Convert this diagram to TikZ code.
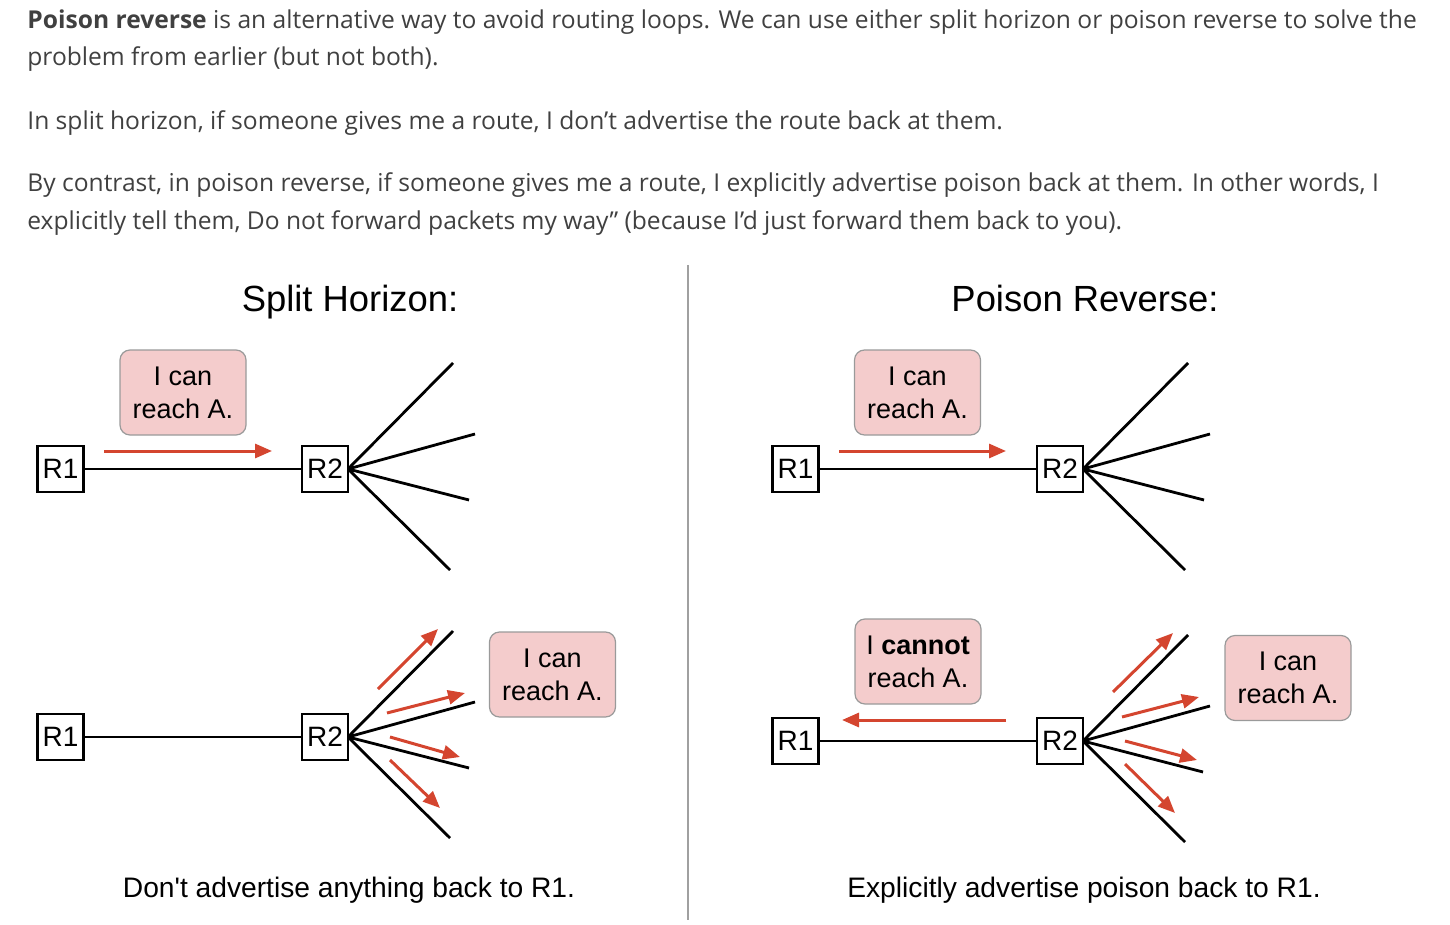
\documentclass[tikz,border=0pt]{standalone}
\usepackage{fontspec}
\setmainfont{Open Sans}
\newfontfamily\diag{Liberation Sans}
\usetikzlibrary{arrows.meta}
\definecolor{bodytxt}{HTML}{404040}
\definecolor{arrred}{HTML}{D4452F}
\definecolor{boxfill}{HTML}{F4CCCC}
\definecolor{boxline}{HTML}{9A9A9A}
\definecolor{divider}{HTML}{A0A0A0}
\begin{document}
\begin{tikzpicture}[x=0.5pt,y=-0.5pt,
  body/.style={anchor=west,inner sep=0pt,text=bodytxt,font=\fontsize{12.3}{14}\selectfont},
  router/.style={draw=black,line width=1.4pt,minimum width=23pt,minimum height=23pt,inner sep=0pt,font=\diag\fontsize{14}{16}\selectfont},
  msg/.style={draw=boxline,line width=0.6pt,fill=boxfill,rounded corners=5pt,minimum width=63pt,minimum height=42.5pt,inner sep=0pt,align=center,font=\diag\fontsize{13.5}{16.5}\selectfont},
  wire/.style={black,line width=1.4pt},
  adv/.style={arrred,line width=1.5pt,-{Triangle[length=8.5pt,width=7pt]}},
  title/.style={font=\diag\fontsize{18.2}{22}\selectfont},
  caption/.style={font=\diag\fontsize{14.1}{16}\selectfont}]
\useasboundingbox (0,0) rectangle (1450,925);
% body text
\node[body] (t1) at (27,22) {\textbf{Poison reverse} is an alternative way to avoid routing loops. We can use either split horizon or poison reverse to solve the};
\node[body] (t2) at (27,59) {problem from earlier (but not both).};
\node[body] (t3) at (27,123) {In split horizon, if someone gives me a route, I don’t advertise the route back at them.};
\node[body] (t4) at (27,185) {By contrast, in poison reverse, if someone gives me a route, I explicitly advertise poison back at them. In other words, I};
\node[body] (t5) at (27,223) {explicitly tell them, Do not forward packets my way” (because I’d just forward them back to you).};
% divider
\coordinate (dtop) at (688,265);
\coordinate (dbot) at (688,920);
\draw[divider,line width=1pt] (dtop) -- (dbot);
% titles
\node[title,anchor=base] (tl) at (350,311) {Split Horizon:};
\node[title,anchor=base] (tr) at (1085,311) {Poison Reverse:};
% ---------- left top
\node[router] (a1) at (60.5,469) {R1};
\node[router] (a2) at (325,469) {R2};
\coordinate (a2c) at (348,469);
\coordinate (af1) at (453,363);
\coordinate (af2) at (475,434);
\coordinate (af3) at (469,500);
\coordinate (af4) at (450,570);
\draw[wire] (a1) -- (a2);
\draw[wire] (a2c) -- (af1) (a2c) -- (af2) (a2c) -- (af3) (a2c) -- (af4);
\node[msg] (am) at (183,392.5) {I can\\reach A.};
\coordinate (aas) at (104,451);
\coordinate (aae) at (272,451);
\draw[adv] (aas) -- (aae);
% ---------- left bottom
\node[router] (b1) at (60.5,737) {R1};
\node[router] (b2) at (325,737) {R2};
\coordinate (b2c) at (348,737);
\coordinate (bf1) at (453,631);
\coordinate (bf2) at (475,702);
\coordinate (bf3) at (469,768);
\coordinate (bf4) at (450,838);
\draw[wire] (b1) -- (b2);
\draw[wire] (b2c) -- (bf1) (b2c) -- (bf2) (b2c) -- (bf3) (b2c) -- (bf4);
\node[msg] (bm) at (552.5,674.5) {I can\\reach A.};
\coordinate (ba1s) at (378,689); \coordinate (ba1e) at (438,629);
\coordinate (ba2s) at (387,713); \coordinate (ba2e) at (465,693);
\coordinate (ba3s) at (390,737); \coordinate (ba3e) at (460,757);
\coordinate (ba4s) at (390,760); \coordinate (ba4e) at (440,808);
\draw[adv] (ba1s) -- (ba1e);
\draw[adv] (ba2s) -- (ba2e);
\draw[adv] (ba3s) -- (ba3e);
\draw[adv] (ba4s) -- (ba4e);
\node[caption] (cl) at (349,890) {Don't advertise anything back to R1.};
% ---------- right top
\node[router] (c1) at (795.5,469) {R1};
\node[router] (c2) at (1060,469) {R2};
\coordinate (c2c) at (1083,469);
\coordinate (cf1) at (1188,363);
\coordinate (cf2) at (1210,434);
\coordinate (cf3) at (1204,500);
\coordinate (cf4) at (1185,570);
\draw[wire] (c1) -- (c2);
\draw[wire] (c2c) -- (cf1) (c2c) -- (cf2) (c2c) -- (cf3) (c2c) -- (cf4);
\node[msg] (cm) at (917.5,392.5) {I can\\reach A.};
\coordinate (cas) at (839,451);
\coordinate (cae) at (1006,451);
\draw[adv] (cas) -- (cae);
% ---------- right bottom
\node[router] (d1) at (795.5,741) {R1};
\node[router] (d2) at (1060,741) {R2};
\coordinate (d2c) at (1083,741);
\coordinate (df1) at (1188,635);
\coordinate (df2) at (1210,706);
\coordinate (df3) at (1203,772);
\coordinate (df4) at (1185,842);
\draw[wire] (d1) -- (d2);
\draw[wire] (d2c) -- (df1) (d2c) -- (df2) (d2c) -- (df3) (d2c) -- (df4);
\node[msg] (dm1) at (918,661.5) {I \textbf{cannot}\\reach A.};
\node[msg] (dm2) at (1288,678) {I can\\reach A.};
\coordinate (das) at (1006,720);
\coordinate (dae) at (842,720);
\draw[adv] (das) -- (dae);
\coordinate (da1s) at (1113,692); \coordinate (da1e) at (1173,633);
\coordinate (da2s) at (1122,717); \coordinate (da2e) at (1199,697);
\coordinate (da3s) at (1125,741); \coordinate (da3e) at (1197,760);
\coordinate (da4s) at (1125,764); \coordinate (da4e) at (1175,813);
\draw[adv] (da1s) -- (da1e);
\draw[adv] (da2s) -- (da2e);
\draw[adv] (da3s) -- (da3e);
\draw[adv] (da4s) -- (da4e);
\node[caption] (cr) at (1084,890) {Explicitly advertise poison back to R1.};
\end{tikzpicture}
\end{document}
